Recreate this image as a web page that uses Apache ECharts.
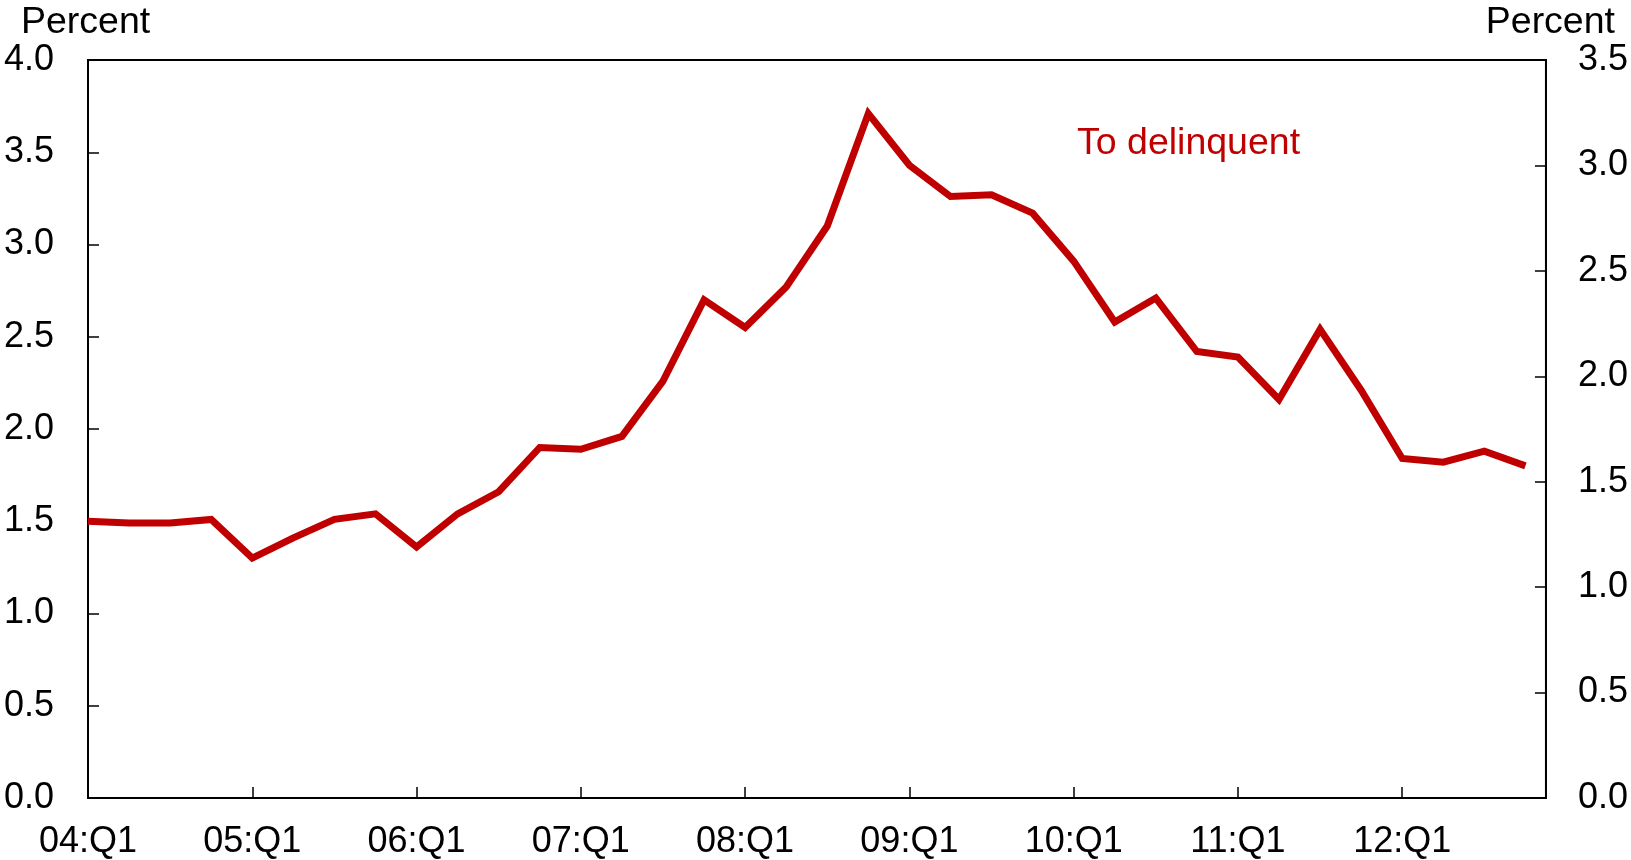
<!DOCTYPE html>
<html>
<head>
<meta charset="utf-8">
<style>
  html, body { margin: 0; padding: 0; background: #fff; }
  #chart { width: 1631px; height: 860px; }
</style>
<script src="https://cdn.jsdelivr.net/npm/echarts@6.0.0/dist/echarts.min.js"></script>
</head>
<body>
<div id="chart"></div>
<script>
// 季度
const quarters = [
  "04:Q1", "04:Q2", "04:Q3", "04:Q4",
  "05:Q1", "05:Q2", "05:Q3", "05:Q4",
  "06:Q1", "06:Q2", "06:Q3", "06:Q4",
  "07:Q1", "07:Q2", "07:Q3", "07:Q4",
  "08:Q1", "08:Q2", "08:Q3", "08:Q4",
  "09:Q1", "09:Q2", "09:Q3", "09:Q4",
  "10:Q1", "10:Q2", "10:Q3", "10:Q4",
  "11:Q1", "11:Q2", "11:Q3", "11:Q4",
  "12:Q1", "12:Q2", "12:Q3", "12:Q4",
];
// To delinquent, percent
const delinquent = [
  1.50, 1.49, 1.49, 1.51, 1.30, 1.41, 1.51, 1.54,
  1.36, 1.54, 1.66, 1.90, 1.89, 1.96, 2.26, 2.70,
  2.55, 2.77, 3.10, 3.71, 3.43, 3.26, 3.27, 3.17,
  2.91, 2.58, 2.71, 2.42, 2.39, 2.16, 2.54, 2.21,
  1.84, 1.82, 1.88, 1.80,
];
// x轴标签 (每4个季度一个)
const xTickLabels = ["04:Q1", "05:Q1", "06:Q1", "07:Q1", "08:Q1", "09:Q1", "10:Q1", "11:Q1", "12:Q1"];

const font = "'Liberation Sans', Arial, sans-serif";
const red = "#C00000";

const chart = echarts.init(document.getElementById("chart"));

const option = {
  animation: false,
  textStyle: { fontFamily: font },
  grid: {
    left: 88,
    right: 85,
    top: 60,
    bottom: 62,
    show: true,
    borderColor: "#000",
    borderWidth: 2,
  },
  xAxis: {
    type: "value",
    min: 0,
    max: 35.5,
    interval: 4,
    splitLine: { show: false },
    axisLine: { show: true, lineStyle: { color: "#000", width: 2 } },
    axisTick: { show: true, inside: true, length: 11, lineStyle: { color: "#000", width: 1.5 } },
    axisLabel: {
      margin: 26,
      color: "#000",
      fontSize: 36,
      fontFamily: font,
      showMaxLabel: false,
      formatter: (v) => {
        if (v % 4 !== 0) return "";
        return xTickLabels[v / 4] || "";
      },
    },
  },
  yAxis: [
    {
      type: "value",
      min: 0,
      max: 4,
      interval: 0.5,
      splitLine: { show: false },
      axisLine: { show: true, lineStyle: { color: "#000", width: 2 } },
      axisTick: { show: true, inside: true, length: 11, lineStyle: { color: "#000", width: 1.5 } },
      axisLabel: {
        margin: 34,
        color: "#000",
        fontSize: 36,
        fontFamily: font,
        formatter: (v) => v.toFixed(1),
      },
    },
    {
      type: "value",
      position: "right",
      min: 0,
      max: 3.5,
      interval: 0.5,
      splitLine: { show: false },
      axisLine: { show: true, lineStyle: { color: "#000", width: 2 } },
      axisTick: { show: true, inside: true, length: 11, lineStyle: { color: "#000", width: 1.5 } },
      axisLabel: {
        margin: 32,
        color: "#000",
        fontSize: 36,
        fontFamily: font,
        formatter: (v) => v.toFixed(1),
      },
    },
  ],
  graphic: [
    {
      type: "text",
      left: 21,
      top: 4,
      style: { text: "Percent", font: "37.5px " + font, fill: "#000" },
    },
    {
      type: "text",
      right: 16,
      top: 4,
      style: { text: "Percent", font: "37.5px " + font, fill: "#000" },
    },
    {
      type: "text",
      left: 1077,
      top: 125,
      style: { text: "To delinquent", font: "37.5px " + font, fill: red },
    },
  ],
  series: [
    {
      name: "To delinquent",
      type: "line",
      yAxisIndex: 0,
      symbol: "none",
      data: quarters.map((q, i) => [i, delinquent[i]]),
      lineStyle: { color: red, width: 7, join: "miter" },
    },
  ],
};

chart.setOption(option);
</script>
</body>
</html>
